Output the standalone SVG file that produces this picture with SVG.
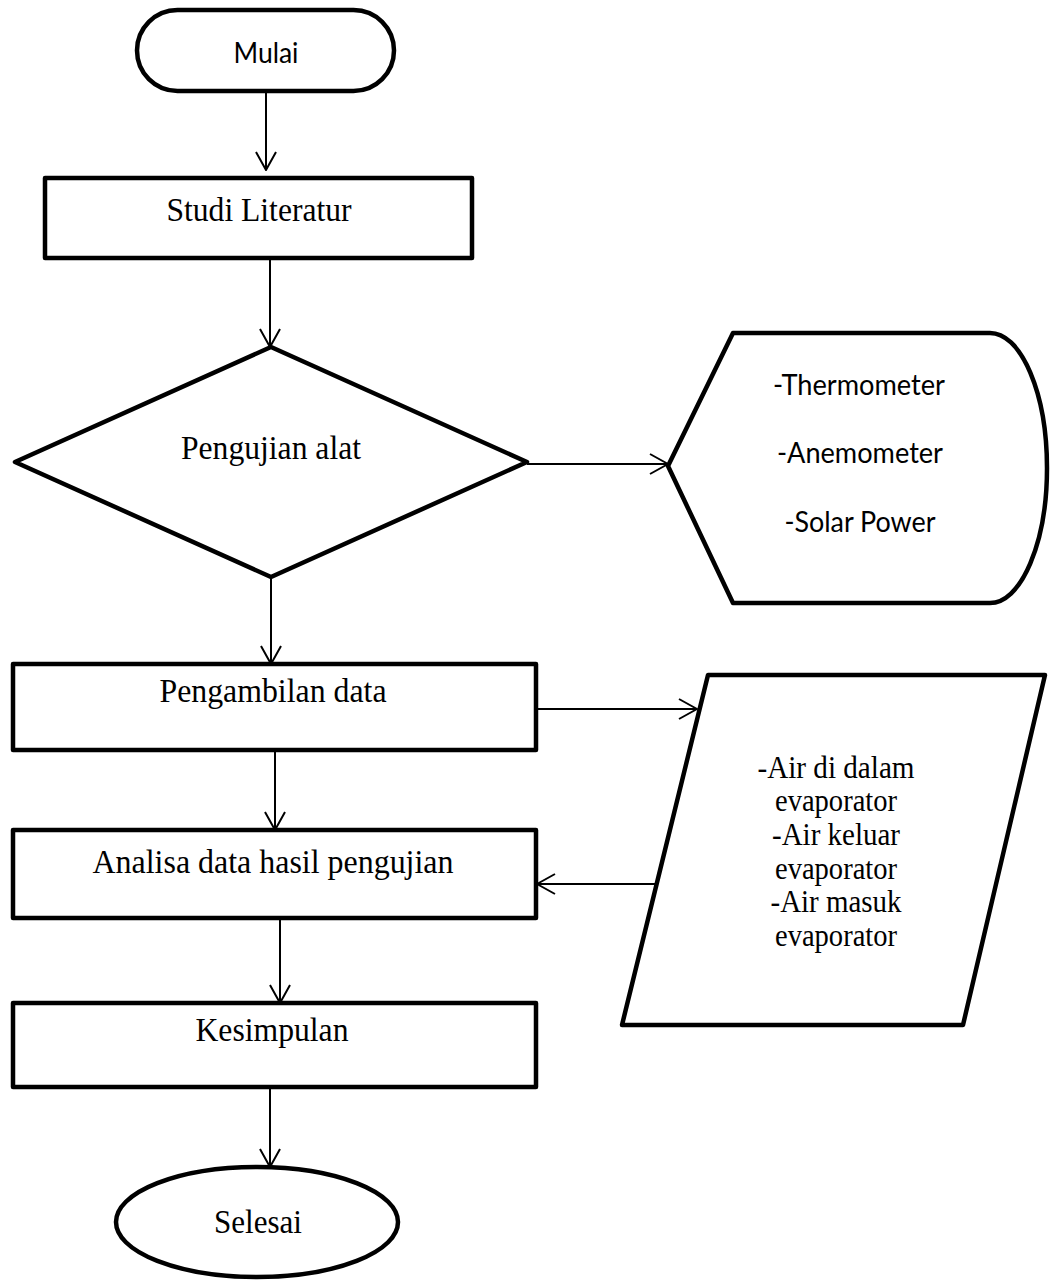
<svg xmlns="http://www.w3.org/2000/svg" width="1051" height="1281" viewBox="0 0 1051 1281">
<style>
.shape{fill:#fff;stroke:#000;stroke-width:4.5;stroke-linejoin:round}
.conn{fill:none;stroke:#000;stroke-width:2}
.serif{font-family:"Liberation Serif","Times New Roman",serif;font-size:34px;fill:#000;text-anchor:middle}
.serif2{font-family:"Liberation Serif","Times New Roman",serif;font-size:31px;fill:#000;text-anchor:middle}
.sans{font-family:Lato,"Liberation Sans",sans-serif;font-size:28px;fill:#000;text-anchor:middle}
</style>
<defs>
<marker id="arr" viewBox="0 0 20 22" refX="19" refY="11" markerWidth="20" markerHeight="22" markerUnits="userSpaceOnUse" orient="auto">
<path d="M1,1 L19,11 L1,21" fill="none" stroke="#000" stroke-width="2"/>
</marker>
</defs>
<rect width="1051" height="1281" fill="#fff"/>
<g id="connectors">
<line class="conn" x1="266" y1="92" x2="266" y2="170" marker-end="url(#arr)"/>
<line class="conn" x1="270" y1="258" x2="270" y2="347" marker-end="url(#arr)"/>
<line class="conn" x1="527" y1="464" x2="668" y2="464" marker-end="url(#arr)"/>
<line class="conn" x1="271" y1="577" x2="271" y2="664" marker-end="url(#arr)"/>
<line class="conn" x1="536" y1="709" x2="697" y2="709" marker-end="url(#arr)"/>
<line class="conn" x1="275" y1="750" x2="275" y2="830" marker-end="url(#arr)"/>
<line class="conn" x1="656" y1="884" x2="537" y2="884" marker-end="url(#arr)"/>
<line class="conn" x1="280" y1="918" x2="280" y2="1003" marker-end="url(#arr)"/>
<line class="conn" x1="270" y1="1087" x2="270" y2="1167" marker-end="url(#arr)"/>
</g>
<g id="mulai">
<rect class="shape" x="137" y="10" width="257" height="81" rx="40.5"/>
<text class="sans" x="266" y="63" textLength="65" lengthAdjust="spacingAndGlyphs">Mulai</text>
</g>
<g id="studi">
<rect class="shape" x="45" y="178" width="427" height="80"/>
<text class="serif" x="259" y="221" textLength="185" lengthAdjust="spacingAndGlyphs">Studi Literatur</text>
</g>
<g id="pengujian">
<polygon class="shape" points="271,347 527,462 271,577 15,462"/>
<text class="serif" x="271" y="459" textLength="180" lengthAdjust="spacingAndGlyphs">Pengujian alat</text>
</g>
<g id="alat">
<path class="shape" d="M733 333 L990 333 A57 135 0 0 1 990 603 L733 603 L668 466 Z"/>
<text class="sans" x="859" y="395" textLength="172" lengthAdjust="spacingAndGlyphs">-Thermometer</text>
<text class="sans" x="860" y="463" textLength="166" lengthAdjust="spacingAndGlyphs">-Anemometer</text>
<text class="sans" x="860" y="532" textLength="151" lengthAdjust="spacingAndGlyphs">-Solar Power</text>
</g>
<g id="pengambilan">
<rect class="shape" x="13" y="664" width="523" height="86"/>
<text class="serif" x="273" y="702" textLength="227" lengthAdjust="spacingAndGlyphs">Pengambilan data</text>
</g>
<g id="data">
<polygon class="shape" points="708,675 1045,675 963,1025 622,1025"/>
<text class="serif2" x="836" y="778" textLength="157" lengthAdjust="spacingAndGlyphs">-Air di dalam</text>
<text class="serif2" x="836" y="811" textLength="122" lengthAdjust="spacingAndGlyphs">evaporator</text>
<text class="serif2" x="836" y="845" textLength="128" lengthAdjust="spacingAndGlyphs">-Air keluar</text>
<text class="serif2" x="836" y="879" textLength="122" lengthAdjust="spacingAndGlyphs">evaporator</text>
<text class="serif2" x="836" y="912" textLength="131" lengthAdjust="spacingAndGlyphs">-Air masuk</text>
<text class="serif2" x="836" y="946" textLength="122" lengthAdjust="spacingAndGlyphs">evaporator</text>
</g>
<g id="analisa">
<rect class="shape" x="13" y="830" width="523" height="88"/>
<text class="serif" x="273" y="873" textLength="361" lengthAdjust="spacingAndGlyphs">Analisa data hasil pengujian</text>
</g>
<g id="kesimpulan">
<rect class="shape" x="13" y="1003" width="523" height="84"/>
<text class="serif" x="272" y="1041" textLength="153" lengthAdjust="spacingAndGlyphs">Kesimpulan</text>
</g>
<g id="selesai">
<ellipse class="shape" cx="257" cy="1222" rx="141" ry="55"/>
<text class="serif" x="258" y="1233" textLength="88" lengthAdjust="spacingAndGlyphs">Selesai</text>
</g>
</svg>
